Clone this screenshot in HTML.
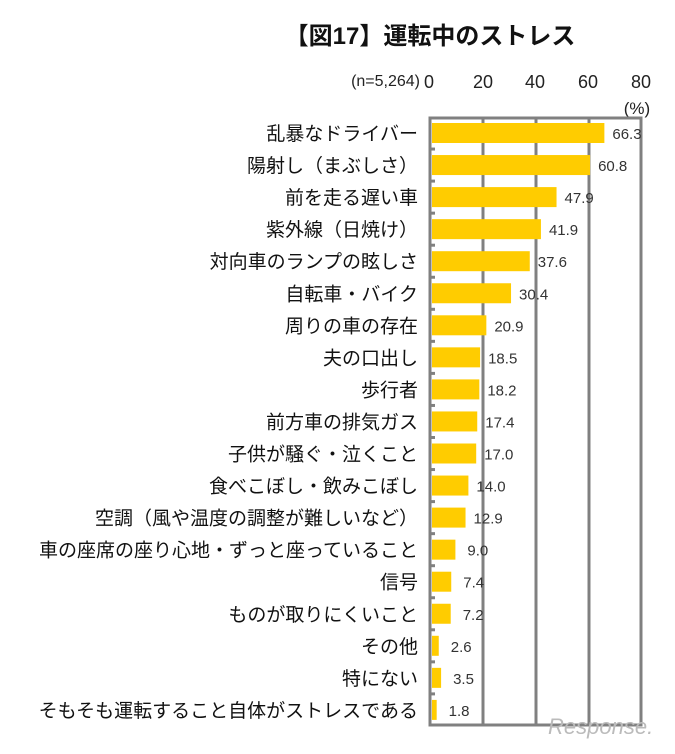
<!DOCTYPE html>
<html><head><meta charset="utf-8"><style>
body{margin:0;background:#fff;width:675px;height:749px;overflow:hidden;font-family:"Liberation Sans","Noto Sans CJK JP",sans-serif;}
</style></head><body>
<svg width="675" height="749" xmlns="http://www.w3.org/2000/svg" font-family="Liberation Sans, Noto Sans CJK JP, sans-serif">
<text x="430" y="44" text-anchor="middle" font-size="24" font-weight="bold" fill="#111">【図17】運転中のストレス</text>
<text x="420" y="86" text-anchor="end" font-size="16" fill="#222">(n=5,264)</text>
<g font-size="18" fill="#222" text-anchor="middle">
<text x="429" y="88">0</text><text x="483" y="88">20</text><text x="535" y="88">40</text><text x="588" y="88">60</text><text x="641" y="88">80</text>
</g>
<text x="637" y="114" text-anchor="middle" font-size="17" fill="#222">(%)</text>
<g stroke="#808080" stroke-width="3" fill="none">
<line x1="483" y1="118" x2="483" y2="725"/><line x1="536" y1="118" x2="536" y2="725"/><line x1="589" y1="118" x2="589" y2="725"/>
<rect x="430" y="118" width="211" height="607"/>
</g>
<g id="bars"></g>
</svg>
<script>
var d=[["乱暴なドライバー",66.3],["陽射し（まぶしさ）",60.8],["前を走る遅い車",47.9],["紫外線（日焼け）",41.9],["対向車のランプの眩しさ",37.6],["自転車・バイク",30.4],["周りの車の存在",20.9],["夫の口出し",18.5],["歩行者",18.2],["前方車の排気ガス",17.4],["子供が騒ぐ・泣くこと",17.0],["食べこぼし・飲みこぼし",14.0],["空調（風や温度の調整が難しいなど）",12.9],["車の座席の座り心地・ずっと座っていること",9.0],["信号",7.4],["ものが取りにくいこと",7.2],["その他",2.6],["特にない",3.5],["そもそも運転すること自体がストレスである",1.8]];
var g=document.getElementById("bars"),h="";
d.forEach(function(r,i){var y=123+i*32.05,w=r[1]*2.6;
h+='<rect x="432" y="'+y+'" width="'+w+'" height="20" fill="#FFCC00"/>';
h+='<text x="418" y="'+(y+17)+'" text-anchor="end" font-size="19" fill="#111">'+r[0]+'</text>';
h+='<text x="'+(432+w+8+(r[1]<10?4:0))+'" y="'+(y+16)+'" font-size="15" fill="#333">'+r[1].toFixed(1)+'</text>';
if(i>0)h+='<line x1="430" y1="'+(y-6)+'" x2="435" y2="'+(y-6)+'" stroke="#808080" stroke-width="3"/>';});
g.innerHTML=h;
</script>
<div style="position:absolute;left:548px;top:714px;font-size:22px;color:#bbb;font-style:italic;font-family:'Liberation Sans',sans-serif">Response.</div>
</body></html>
